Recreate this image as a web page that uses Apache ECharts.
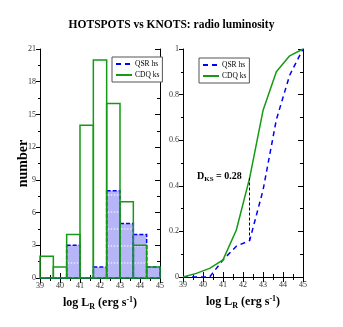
<!DOCTYPE html>
<html>
<head>
<meta charset="utf-8">
<script src="https://cdn.jsdelivr.net/npm/echarts@6/dist/echarts.min.js"></script>
<style>
  html, body { margin: 0; padding: 0; background: #fff; }
  #main { width: 343px; height: 327px; }
</style>
</head>
<body>
<div id="main"></div>
<script>
// histogram bins (log L_R), width 2/3 dex
var binStart = [39, 39.667, 40.333, 41, 41.667, 42.333, 43, 43.667, 44.333];
var binEnd = [39.667, 40.333, 41, 41.667, 42.333, 43, 43.667, 44.333, 45];
var qsrCounts = [0, 0, 3, 0, 1, 8, 5, 4, 1];
var cdqCounts = [2, 1, 4, 14, 20, 16, 7, 3, 1];

// cumulative distributions
var qsrCumX = [39, 40.333, 41, 41.667, 42.333, 43, 43.667, 44.333, 45];
var qsrCumY = [0, 0, 0.075, 0.135, 0.16, 0.38, 0.69, 0.885, 1];
var cdqCumX = [39, 39.667, 40.333, 41, 41.667, 42.333, 43, 43.667, 44.333, 45];
var cdqCumY = [0, 0.016, 0.038, 0.075, 0.206, 0.435, 0.73, 0.9, 0.97, 1];

// KS distance marker
var ksX = 42.333;
var ksLow = 0.16;
var ksHigh = 0.435;

var BLUE = '#0000ff';
var GREEN = '#149a14';
var FILL = '#b5b5f7';
var SERIF = '"Liberation Serif", "DejaVu Serif", serif';

function zip(a, b) {
  var out = [];
  for (var i = 0; i < a.length; i++) out.push([a[i], b[i]]);
  return out;
}
function binData(counts) {
  var out = [];
  for (var i = 0; i < counts.length; i++) out.push([binStart[i], binEnd[i], counts[i]]);
  return out;
}

function renderQsr(params, api) {
  var p0 = api.coord([api.value(0), api.value(2)]);
  var p1 = api.coord([api.value(1), 0]);
  var x = p0[0], y = p0[1], w = p1[0] - p0[0], h = p1[1] - p0[1];
  var kids = [{
    type: 'rect',
    shape: { x: x, y: y, width: w, height: h },
    style: { fill: FILL, stroke: BLUE, lineWidth: 1.5, lineDash: [4, 2] }
  }];
  // dotted white hatching inside the filled bars
  for (var yy = p1[1] - 15; yy > y + 4; yy -= 17) {
    kids.push({
      type: 'line',
      shape: { x1: x + 1, y1: yy, x2: x + w - 1, y2: yy },
      style: { stroke: '#fff', lineWidth: 1, lineDash: [1.5, 1.5] }
    });
  }
  return { type: 'group', children: kids };
}

function renderCdq(params, api) {
  var p0 = api.coord([api.value(0), api.value(2)]);
  var p1 = api.coord([api.value(1), 0]);
  return {
    type: 'rect',
    shape: { x: p0[0], y: p0[1], width: p1[0] - p0[0], height: p1[1] - p0[1] },
    style: { fill: 'none', stroke: GREEN, lineWidth: 1.5 }
  };
}

var axisName = {
  rich: {
    b: { fontFamily: SERIF, fontWeight: 'bold', fontSize: 12, color: '#000' },
    sub: { fontFamily: SERIF, fontWeight: 'bold', fontSize: 8, color: '#000', padding: [8, 0, 0, 0] },
    sup: { fontFamily: SERIF, fontWeight: 'bold', fontSize: 8, color: '#000', padding: [0, 0, 7, 0] }
  }
};
var xName = '{b|log L}{sub|R}{b| (erg s}{sup|-1}{b|)}';

var tickLabel = { fontFamily: SERIF, fontSize: 8, color: '#333', margin: 4 };

function bottomAxis(grid) {
  return {
    gridIndex: grid, type: 'value', min: 39, max: 45, interval: 1, position: 'bottom',
    name: xName, nameLocation: 'middle', nameGap: 17, nameMoveOverlap: false,
    nameTextStyle: axisName,
    axisLine: { lineStyle: { color: '#000', width: 1 } },
    axisTick: { inside: true, length: 5, lineStyle: { color: '#000' } },
    minorTick: { show: true, splitNumber: 2, length: 3, lineStyle: { color: '#000' } },
    axisLabel: tickLabel,
    splitLine: { show: false }
  };
}
function topAxis(grid) {
  return {
    gridIndex: grid, type: 'value', min: 39, max: 45, interval: 1, position: 'top',
    axisLine: { lineStyle: { color: '#000', width: 1 } },
    axisTick: { inside: true, length: 5, lineStyle: { color: '#000' } },
    minorTick: { show: true, splitNumber: 2, length: 3, lineStyle: { color: '#000' } },
    axisLabel: { show: false },
    splitLine: { show: false }
  };
}
function leftAxis(grid, max, interval, name) {
  return {
    gridIndex: grid, type: 'value', min: 0, max: max, interval: interval, position: 'left',
    name: name, nameLocation: 'middle', nameRotate: 90, nameGap: 10, nameMoveOverlap: false,
    nameTextStyle: { fontFamily: SERIF, fontWeight: 'bold', fontSize: 14, color: '#000' },
    axisLine: { show: true, lineStyle: { color: '#000', width: 1 } },
    axisTick: { show: true, inside: false, length: 4, lineStyle: { color: '#000' } },
    minorTick: { show: true, splitNumber: 2, length: 2, lineStyle: { color: '#000' } },
    axisLabel: tickLabel,
    splitLine: { show: false }
  };
}
function rightAxis(grid, max, interval) {
  return {
    gridIndex: grid, type: 'value', min: 0, max: max, interval: interval, position: 'right',
    axisLine: { show: true, lineStyle: { color: '#000', width: 1 } },
    axisTick: { show: true, inside: true, length: 5, lineStyle: { color: '#000' } },
    minorTick: { show: true, splitNumber: 2, length: 3, lineStyle: { color: '#000' } },
    axisLabel: { show: false },
    splitLine: { show: false }
  };
}

function legendAt(left, top) {
  return {
    left: left, top: top, orient: 'vertical',
    data: ['QSR hs', 'CDQ ks'],
    backgroundColor: '#fff', borderColor: '#555', borderWidth: 1,
    padding: [3, 3, 3, 3], itemGap: 3, itemWidth: 16, itemHeight: 7,
    selectedMode: false,
    itemStyle: { color: 'transparent', borderColor: 'transparent', borderWidth: 0 },
    textStyle: { fontFamily: SERIF, fontSize: 7.5, color: '#000', padding: [0, 0, 0, -2] }
  };
}

var chart = echarts.init(document.getElementById('main'), null, { renderer: 'canvas' });

var option = {
  animation: false,
  backgroundColor: '#fff',
  title: {
    text: 'HOTSPOTS vs KNOTS: radio luminosity',
    left: 'center', top: 14,
    textStyle: { fontFamily: SERIF, fontWeight: 'bold', fontSize: 11.5, color: '#000' }
  },
  legend: [legendAt(112, 57), legendAt(199, 58)],
  grid: [
    { left: 40, top: 49, width: 120, height: 229 },
    { left: 183, top: 49, width: 120, height: 228 }
  ],
  xAxis: [bottomAxis(0), topAxis(0), bottomAxis(1), topAxis(1)],
  yAxis: [
    leftAxis(0, 21, 3, 'number'), rightAxis(0, 21, 3),
    leftAxis(1, 1, 0.2, ''), rightAxis(1, 1, 0.2)
  ],
  graphic: [{
    type: 'text', left: 197, top: 171,
    style: {
      text: '{b|D}{sub|KS}{b| = 0.28}',
      rich: {
        b: { fontFamily: SERIF, fontWeight: 'bold', fontSize: 10, fill: '#000' },
        sub: { fontFamily: SERIF, fontWeight: 'bold', fontSize: 7, fill: '#000', padding: [6, 0, 0, 0] }
      }
    }
  }],
  series: [
    {
      name: 'QSR hs', type: 'line', xAxisIndex: 2, yAxisIndex: 2,
      data: zip(qsrCumX, qsrCumY), symbol: 'none', z: 3,
      itemStyle: { color: BLUE },
      lineStyle: { color: BLUE, width: 1.5, type: [5, 4] },
      markLine: {
        silent: true, symbol: 'none', label: { show: false },
        lineStyle: { color: '#000', type: [3, 2], width: 1 },
        data: [[{ coord: [ksX, ksLow] }, { coord: [ksX, ksHigh] }]]
      }
    },
    {
      name: 'CDQ ks', type: 'line', xAxisIndex: 2, yAxisIndex: 2,
      data: zip(cdqCumX, cdqCumY), symbol: 'none', z: 3,
      itemStyle: { color: GREEN },
      lineStyle: { color: GREEN, width: 1.5 }
    },
    {
      name: 'QSR hs', type: 'custom', xAxisIndex: 0, yAxisIndex: 0,
      data: binData(qsrCounts), renderItem: renderQsr, z: 1,
      itemStyle: { color: BLUE }
    },
    {
      name: 'CDQ ks', type: 'custom', xAxisIndex: 0, yAxisIndex: 0,
      data: binData(cdqCounts), renderItem: renderCdq, z: 2,
      itemStyle: { color: GREEN }
    }
  ]
};

chart.setOption(option);
</script>
</body>
</html>
